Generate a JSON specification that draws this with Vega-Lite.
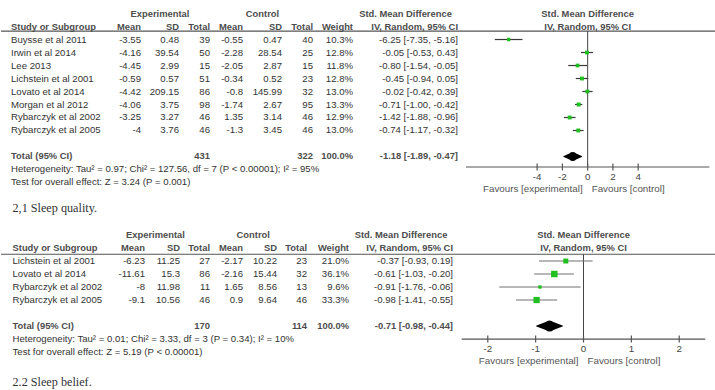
{
"$schema": "https://vega.github.io/schema/vega-lite/v6.json",
"padding": 0,
"spacing": 0,
"bounds": "flush",
"background": "white",
"config": {
  "view": {"stroke": null},
  "axis": {"disable": true},
  "legend": {"disable": true},
  "text": {"font": "Liberation Sans", "fontSize": 9.6, "baseline": "middle", "color": "#333333"}
},
"datasets": {
  "s1": [
    {"row":1,"study":"Buysse et al 2011","eMean":-3.55,"eSD":0.48,"eN":39,"cMean":-0.55,"cSD":0.47,"cN":40,"w":0.103,"est":-6.25,"lo":-7.35,"hi":-5.16,"ci":"-6.25 [-7.35, -5.16]"},
    {"row":2,"study":"Irwin et al 2014","eMean":-4.16,"eSD":39.54,"eN":50,"cMean":-2.28,"cSD":28.54,"cN":25,"w":0.128,"est":-0.05,"lo":-0.53,"hi":0.43,"ci":"-0.05 [-0.53, 0.43]"},
    {"row":3,"study":"Lee 2013","eMean":-4.45,"eSD":2.99,"eN":15,"cMean":-2.05,"cSD":2.87,"cN":15,"w":0.118,"est":-0.80,"lo":-1.54,"hi":-0.05,"ci":"-0.80 [-1.54, -0.05]"},
    {"row":4,"study":"Lichstein et al 2001","eMean":-0.59,"eSD":0.57,"eN":51,"cMean":-0.34,"cSD":0.52,"cN":23,"w":0.128,"est":-0.45,"lo":-0.94,"hi":0.05,"ci":"-0.45 [-0.94, 0.05]"},
    {"row":5,"study":"Lovato et al 2014","eMean":-4.42,"eSD":209.15,"eN":86,"cMean":-0.8,"cSD":145.99,"cN":32,"w":0.130,"est":-0.02,"lo":-0.42,"hi":0.39,"ci":"-0.02 [-0.42, 0.39]"},
    {"row":6,"study":"Morgan et al 2012","eMean":-4.06,"eSD":3.75,"eN":98,"cMean":-1.74,"cSD":2.67,"cN":95,"w":0.133,"est":-0.71,"lo":-1.00,"hi":-0.42,"ci":"-0.71 [-1.00, -0.42]"},
    {"row":7,"study":"Rybarczyk et al 2002","eMean":-3.25,"eSD":3.27,"eN":46,"cMean":1.35,"cSD":3.14,"cN":46,"w":0.129,"est":-1.42,"lo":-1.88,"hi":-0.96,"ci":"-1.42 [-1.88, -0.96]"},
    {"row":8,"study":"Rybarczyk et al 2005","eMean":-4,"eSD":3.76,"eN":46,"cMean":-1.3,"cSD":3.45,"cN":46,"w":0.130,"est":-0.74,"lo":-1.17,"hi":-0.32,"ci":"-0.74 [-1.17, -0.32]"}
  ],
  "b1": [
    {"row":0,"study":"Study or Subgroup","eMean":"Mean","eSD":"SD","eN":"Total","cMean":"Mean","cSD":"SD","cN":"Total","wt":"Weight","ci":"IV, Random, 95% CI"},
    {"row":10,"study":"Total (95% CI)","eMean":"","eSD":"","eN":"431","cMean":"","cSD":"","cN":"322","wt":"100.0%","ci":"-1.18 [-1.89, -0.47]"}
  ],
  "n1": [
    {"row":11,"text":"Heterogeneity: Tau² = 0.97; Chi² = 127.56, df = 7 (P < 0.00001); I² = 95%"},
    {"row":12,"text":"Test for overall effect: Z = 3.24 (P = 0.001)"}
  ],
  "t1": [{"row":10,"lo":-1.89,"est":-1.18,"hi":-0.47}],
  "k1": [{"v":-4},{"v":-2},{"v":0},{"v":2},{"v":4}],
  "cap1": [{"text":"2,1 Sleep quality."}],
  "s2": [
    {"row":1,"study":"Lichstein et al 2001","eMean":-6.23,"eSD":11.25,"eN":27,"cMean":-2.17,"cSD":10.22,"cN":23,"w":0.210,"est":-0.37,"lo":-0.93,"hi":0.19,"ci":"-0.37 [-0.93, 0.19]"},
    {"row":2,"study":"Lovato et al 2014","eMean":-11.61,"eSD":15.3,"eN":86,"cMean":-2.16,"cSD":15.44,"cN":32,"w":0.361,"est":-0.61,"lo":-1.03,"hi":-0.20,"ci":"-0.61 [-1.03, -0.20]"},
    {"row":3,"study":"Rybarczyk et al 2002","eMean":-8,"eSD":11.98,"eN":11,"cMean":1.65,"cSD":8.56,"cN":13,"w":0.096,"est":-0.91,"lo":-1.76,"hi":-0.06,"ci":"-0.91 [-1.76, -0.06]"},
    {"row":4,"study":"Rybarczyk et al 2005","eMean":-9.1,"eSD":10.56,"eN":46,"cMean":0.9,"cSD":9.64,"cN":46,"w":0.333,"est":-0.98,"lo":-1.41,"hi":-0.55,"ci":"-0.98 [-1.41, -0.55]"}
  ],
  "b2": [
    {"row":0,"study":"Study or Subgroup","eMean":"Mean","eSD":"SD","eN":"Total","cMean":"Mean","cSD":"SD","cN":"Total","wt":"Weight","ci":"IV, Random, 95% CI"},
    {"row":6,"study":"Total (95% CI)","eMean":"","eSD":"","eN":"170","cMean":"","cSD":"","cN":"114","wt":"100.0%","ci":"-0.71 [-0.98, -0.44]"}
  ],
  "n2": [
    {"row":7,"text":"Heterogeneity: Tau² = 0.01; Chi² = 3.33, df = 3 (P = 0.34); I² = 10%"},
    {"row":8,"text":"Test for overall effect: Z = 5.19 (P < 0.00001)"}
  ],
  "t2": [{"row":6,"lo":-0.98,"est":-0.71,"hi":-0.44}],
  "k2": [{"v":-2},{"v":-1},{"v":0},{"v":1},{"v":2}],
  "cap2": [{"text":"2.2 Sleep belief."}],
  "h": [{"exp":"Experimental","ctl":"Control","smd":"Std. Mean Difference","sub":"IV, Random, 95% CI"}],
  "fav": [{"l":"Favours [experimental]","r":"Favours [control]"}],
  "one": [{}]
},
"vconcat": [
{
  "width": 715, "height": 222,
  "resolve": {"scale": {"x": "independent"}},
  "layer": [
    {"layer": [
      {"data":{"name":"one"},"mark":{"type":"rule","color":"#555555","strokeWidth":1.2},"encoding":{"y":{"datum":0.35,"type":"quantitative","scale":{"domain":[-2.04,15.04],"reverse":true,"nice":false,"zero":false}}}},
      {"data":{"name":"h"},"mark":{"type":"text","align":"center","fontWeight":"bold","color":"#4d4d4d","fontSize":9.4},"encoding":{"x":{"datum":1.5,"type":"quantitative","scale":{"domain":[0,1,2,3,4,5,6,7,8],"range":[10,140,178,209,242,281,312,352,457],"nice":false,"zero":false}},"y":{"datum":-1,"type":"quantitative","scale":{"domain":[-2.04,15.04],"reverse":true,"nice":false,"zero":false}},"text":{"field":"exp","type":"nominal"}}},
      {"data":{"name":"h"},"mark":{"type":"text","align":"center","fontWeight":"bold","color":"#4d4d4d","fontSize":9.4},"encoding":{"x":{"datum":4.5,"type":"quantitative"},"y":{"datum":-1,"type":"quantitative"},"text":{"field":"ctl","type":"nominal"}}},
      {"data":{"name":"h"},"mark":{"type":"text","align":"center","fontWeight":"bold","color":"#4d4d4d","fontSize":9.4},"encoding":{"x":{"datum":7.5,"type":"quantitative"},"y":{"datum":-1,"type":"quantitative"},"text":{"field":"smd","type":"nominal"}}},
      {"data":{"name":"b1"},"mark":{"type":"text","align":"left","fontWeight":"bold","color":"#4d4d4d","fontSize":9.4},"encoding":{"x":{"datum":0,"type":"quantitative"},"y":{"field":"row","type":"quantitative"},"text":{"field":"study","type":"nominal"}}},
      {"data":{"name":"b1"},"mark":{"type":"text","align":"right","fontWeight":"bold","color":"#4d4d4d","fontSize":9.4},"encoding":{"x":{"datum":1,"type":"quantitative"},"y":{"field":"row","type":"quantitative"},"text":{"field":"eMean","type":"nominal"}}},
      {"data":{"name":"b1"},"mark":{"type":"text","align":"right","fontWeight":"bold","color":"#4d4d4d","fontSize":9.4},"encoding":{"x":{"datum":2,"type":"quantitative"},"y":{"field":"row","type":"quantitative"},"text":{"field":"eSD","type":"nominal"}}},
      {"data":{"name":"b1"},"mark":{"type":"text","align":"right","fontWeight":"bold","color":"#4d4d4d","fontSize":9.4},"encoding":{"x":{"datum":3,"type":"quantitative"},"y":{"field":"row","type":"quantitative"},"text":{"field":"eN","type":"nominal"}}},
      {"data":{"name":"b1"},"mark":{"type":"text","align":"right","fontWeight":"bold","color":"#4d4d4d","fontSize":9.4},"encoding":{"x":{"datum":4,"type":"quantitative"},"y":{"field":"row","type":"quantitative"},"text":{"field":"cMean","type":"nominal"}}},
      {"data":{"name":"b1"},"mark":{"type":"text","align":"right","fontWeight":"bold","color":"#4d4d4d","fontSize":9.4},"encoding":{"x":{"datum":5,"type":"quantitative"},"y":{"field":"row","type":"quantitative"},"text":{"field":"cSD","type":"nominal"}}},
      {"data":{"name":"b1"},"mark":{"type":"text","align":"right","fontWeight":"bold","color":"#4d4d4d","fontSize":9.4},"encoding":{"x":{"datum":6,"type":"quantitative"},"y":{"field":"row","type":"quantitative"},"text":{"field":"cN","type":"nominal"}}},
      {"data":{"name":"b1"},"mark":{"type":"text","align":"right","fontWeight":"bold","color":"#4d4d4d","fontSize":9.4},"encoding":{"x":{"datum":7,"type":"quantitative"},"y":{"field":"row","type":"quantitative"},"text":{"field":"wt","type":"nominal"}}},
      {"data":{"name":"b1"},"mark":{"type":"text","align":"right","fontWeight":"bold","color":"#4d4d4d","fontSize":9.4},"encoding":{"x":{"datum":8,"type":"quantitative"},"y":{"field":"row","type":"quantitative"},"text":{"field":"ci","type":"nominal"}}},
      {"data":{"name":"s1"},"mark":{"type":"text","align":"left"},"encoding":{"x":{"datum":0,"type":"quantitative"},"y":{"field":"row","type":"quantitative"},"text":{"field":"study","type":"nominal"}}},
      {"data":{"name":"s1"},"mark":{"type":"text","align":"right"},"encoding":{"x":{"datum":1,"type":"quantitative"},"y":{"field":"row","type":"quantitative"},"text":{"field":"eMean","type":"nominal"}}},
      {"data":{"name":"s1"},"mark":{"type":"text","align":"right"},"encoding":{"x":{"datum":2,"type":"quantitative"},"y":{"field":"row","type":"quantitative"},"text":{"field":"eSD","type":"nominal"}}},
      {"data":{"name":"s1"},"mark":{"type":"text","align":"right"},"encoding":{"x":{"datum":3,"type":"quantitative"},"y":{"field":"row","type":"quantitative"},"text":{"field":"eN","type":"nominal"}}},
      {"data":{"name":"s1"},"mark":{"type":"text","align":"right"},"encoding":{"x":{"datum":4,"type":"quantitative"},"y":{"field":"row","type":"quantitative"},"text":{"field":"cMean","type":"nominal"}}},
      {"data":{"name":"s1"},"mark":{"type":"text","align":"right"},"encoding":{"x":{"datum":5,"type":"quantitative"},"y":{"field":"row","type":"quantitative"},"text":{"field":"cSD","type":"nominal"}}},
      {"data":{"name":"s1"},"mark":{"type":"text","align":"right"},"encoding":{"x":{"datum":6,"type":"quantitative"},"y":{"field":"row","type":"quantitative"},"text":{"field":"cN","type":"nominal"}}},
      {"data":{"name":"s1"},"mark":{"type":"text","align":"right"},"encoding":{"x":{"datum":7,"type":"quantitative"},"y":{"field":"row","type":"quantitative"},"text":{"field":"w","type":"quantitative","format":".1%"}}},
      {"data":{"name":"s1"},"mark":{"type":"text","align":"right"},"encoding":{"x":{"datum":8,"type":"quantitative"},"y":{"field":"row","type":"quantitative"},"text":{"field":"ci","type":"nominal"}}},
      {"data":{"name":"n1"},"mark":{"type":"text","align":"left"},"encoding":{"x":{"datum":0,"type":"quantitative"},"y":{"field":"row","type":"quantitative"},"text":{"field":"text","type":"nominal"}}},
      {"data":{"name":"cap1"},"mark":{"type":"text","align":"left","font":"Liberation Serif","fontSize":12.2,"dx":1.5},"encoding":{"x":{"datum":0,"type":"quantitative"},"y":{"datum":14,"type":"quantitative"},"text":{"field":"text","type":"nominal"}}}
    ]},
    {"layer": [
      {"data":{"name":"one"},"mark":{"type":"rule","color":"#444444","strokeWidth":1},"encoding":{"x":{"datum":0,"type":"quantitative","scale":{"domain":[-9.63,9.63],"range":[465,708.3],"nice":false,"zero":false}},"y":{"datum":0.35,"type":"quantitative"},"y2":{"datum":10.81}}},
      {"data":{"name":"one"},"mark":{"type":"rule","color":"#555555","strokeWidth":1.2},"encoding":{"x":{"datum":-9.63,"type":"quantitative"},"x2":{"datum":9.63},"y":{"datum":10.81,"type":"quantitative"}}},
      {"data":{"name":"k1"},"mark":{"type":"rule","color":"#555555","strokeWidth":1.2},"encoding":{"x":{"field":"v","type":"quantitative"},"y":{"datum":10.54,"type":"quantitative"},"y2":{"datum":11.08}}},
      {"data":{"name":"k1"},"mark":{"type":"text","align":"center","fontSize":9.8,"color":"#444444"},"encoding":{"x":{"field":"v","type":"quantitative"},"y":{"datum":11.55,"type":"quantitative"},"text":{"field":"v","type":"nominal"}}},
      {"data":{"name":"h"},"mark":{"type":"text","align":"center","fontWeight":"bold","color":"#4d4d4d","fontSize":9.4},"encoding":{"x":{"datum":0,"type":"quantitative"},"y":{"datum":-1,"type":"quantitative"},"text":{"field":"smd","type":"nominal"}}},
      {"data":{"name":"h"},"mark":{"type":"text","align":"center","fontWeight":"bold","color":"#4d4d4d","fontSize":9.4},"encoding":{"x":{"datum":0,"type":"quantitative"},"y":{"datum":0,"type":"quantitative"},"text":{"field":"sub","type":"nominal"}}},
      {"data":{"name":"s1"},"mark":{"type":"rule","color":"#3a3a3a","strokeWidth":1.2},"encoding":{"x":{"field":"lo","type":"quantitative"},"x2":{"field":"hi"},"y":{"field":"row","type":"quantitative"}}},
      {"data":{"name":"s1"},"mark":{"type":"square","filled":true,"color":"#1fbf1f","opacity":1},"encoding":{"x":{"field":"est","type":"quantitative"},"y":{"field":"row","type":"quantitative"},"size":{"field":"w","type":"quantitative","scale":{"domain":[0,0.361],"range":[0,42]}}}},
      {"data":{"name":"t1"},"transform":[{"fold":["lo","est","hi"],"as":["k","v"]}],"mark":{"type":"trail","color":"black"},"encoding":{"x":{"field":"v","type":"quantitative"},"y":{"field":"row","type":"quantitative"},"size":{"condition":{"test":"datum.k === 'est'","value":9},"value":0}}},
      {"data":{"name":"fav"},"mark":{"type":"text","align":"right","dx":-5,"fontSize":9.8,"color":"#555555"},"encoding":{"x":{"datum":0,"type":"quantitative"},"y":{"datum":12.5,"type":"quantitative"},"text":{"field":"l","type":"nominal"}}},
      {"data":{"name":"fav"},"mark":{"type":"text","align":"left","dx":4,"fontSize":9.8,"color":"#555555"},"encoding":{"x":{"datum":0,"type":"quantitative"},"y":{"datum":12.5,"type":"quantitative"},"text":{"field":"r","type":"nominal"}}}
    ]}
  ]
},
{
  "width": 715, "height": 168,
  "resolve": {"scale": {"x": "independent"}},
  "layer": [
    {"layer": [
      {"data":{"name":"one"},"mark":{"type":"rule","color":"#555555","strokeWidth":1.2},"encoding":{"y":{"datum":0.48,"type":"quantitative","scale":{"domain":[-2,10.92],"reverse":true,"nice":false,"zero":false}}}},
      {"data":{"name":"h"},"mark":{"type":"text","align":"center","fontWeight":"bold","color":"#4d4d4d","fontSize":9.4},"encoding":{"x":{"datum":1.3,"type":"quantitative","scale":{"domain":[0,1,2,3,4,5,6,7,8],"range":[11.5,144,179,209,242,276,306,348,452],"nice":false,"zero":false}},"y":{"datum":-1,"type":"quantitative"},"text":{"field":"exp","type":"nominal"}}},
      {"data":{"name":"h"},"mark":{"type":"text","align":"center","fontWeight":"bold","color":"#4d4d4d","fontSize":9.4},"encoding":{"x":{"datum":4.3,"type":"quantitative"},"y":{"datum":-1,"type":"quantitative"},"text":{"field":"ctl","type":"nominal"}}},
      {"data":{"name":"h"},"mark":{"type":"text","align":"center","fontWeight":"bold","color":"#4d4d4d","fontSize":9.4},"encoding":{"x":{"datum":7.5,"type":"quantitative"},"y":{"datum":-1,"type":"quantitative"},"text":{"field":"smd","type":"nominal"}}},
      {"data":{"name":"b2"},"mark":{"type":"text","align":"left","fontWeight":"bold","color":"#4d4d4d","fontSize":9.4},"encoding":{"x":{"datum":0,"type":"quantitative"},"y":{"field":"row","type":"quantitative"},"text":{"field":"study","type":"nominal"}}},
      {"data":{"name":"b2"},"mark":{"type":"text","align":"right","fontWeight":"bold","color":"#4d4d4d","fontSize":9.4},"encoding":{"x":{"datum":1,"type":"quantitative"},"y":{"field":"row","type":"quantitative"},"text":{"field":"eMean","type":"nominal"}}},
      {"data":{"name":"b2"},"mark":{"type":"text","align":"right","fontWeight":"bold","color":"#4d4d4d","fontSize":9.4},"encoding":{"x":{"datum":2,"type":"quantitative"},"y":{"field":"row","type":"quantitative"},"text":{"field":"eSD","type":"nominal"}}},
      {"data":{"name":"b2"},"mark":{"type":"text","align":"right","fontWeight":"bold","color":"#4d4d4d","fontSize":9.4},"encoding":{"x":{"datum":3,"type":"quantitative"},"y":{"field":"row","type":"quantitative"},"text":{"field":"eN","type":"nominal"}}},
      {"data":{"name":"b2"},"mark":{"type":"text","align":"right","fontWeight":"bold","color":"#4d4d4d","fontSize":9.4},"encoding":{"x":{"datum":4,"type":"quantitative"},"y":{"field":"row","type":"quantitative"},"text":{"field":"cMean","type":"nominal"}}},
      {"data":{"name":"b2"},"mark":{"type":"text","align":"right","fontWeight":"bold","color":"#4d4d4d","fontSize":9.4},"encoding":{"x":{"datum":5,"type":"quantitative"},"y":{"field":"row","type":"quantitative"},"text":{"field":"cSD","type":"nominal"}}},
      {"data":{"name":"b2"},"mark":{"type":"text","align":"right","fontWeight":"bold","color":"#4d4d4d","fontSize":9.4},"encoding":{"x":{"datum":6,"type":"quantitative"},"y":{"field":"row","type":"quantitative"},"text":{"field":"cN","type":"nominal"}}},
      {"data":{"name":"b2"},"mark":{"type":"text","align":"right","fontWeight":"bold","color":"#4d4d4d","fontSize":9.4},"encoding":{"x":{"datum":7,"type":"quantitative"},"y":{"field":"row","type":"quantitative"},"text":{"field":"wt","type":"nominal"}}},
      {"data":{"name":"b2"},"mark":{"type":"text","align":"right","fontWeight":"bold","color":"#4d4d4d","fontSize":9.4},"encoding":{"x":{"datum":8,"type":"quantitative"},"y":{"field":"row","type":"quantitative"},"text":{"field":"ci","type":"nominal"}}},
      {"data":{"name":"s2"},"mark":{"type":"text","align":"left"},"encoding":{"x":{"datum":0,"type":"quantitative"},"y":{"field":"row","type":"quantitative"},"text":{"field":"study","type":"nominal"}}},
      {"data":{"name":"s2"},"mark":{"type":"text","align":"right"},"encoding":{"x":{"datum":1,"type":"quantitative"},"y":{"field":"row","type":"quantitative"},"text":{"field":"eMean","type":"nominal"}}},
      {"data":{"name":"s2"},"mark":{"type":"text","align":"right"},"encoding":{"x":{"datum":2,"type":"quantitative"},"y":{"field":"row","type":"quantitative"},"text":{"field":"eSD","type":"nominal"}}},
      {"data":{"name":"s2"},"mark":{"type":"text","align":"right"},"encoding":{"x":{"datum":3,"type":"quantitative"},"y":{"field":"row","type":"quantitative"},"text":{"field":"eN","type":"nominal"}}},
      {"data":{"name":"s2"},"mark":{"type":"text","align":"right"},"encoding":{"x":{"datum":4,"type":"quantitative"},"y":{"field":"row","type":"quantitative"},"text":{"field":"cMean","type":"nominal"}}},
      {"data":{"name":"s2"},"mark":{"type":"text","align":"right"},"encoding":{"x":{"datum":5,"type":"quantitative"},"y":{"field":"row","type":"quantitative"},"text":{"field":"cSD","type":"nominal"}}},
      {"data":{"name":"s2"},"mark":{"type":"text","align":"right"},"encoding":{"x":{"datum":6,"type":"quantitative"},"y":{"field":"row","type":"quantitative"},"text":{"field":"cN","type":"nominal"}}},
      {"data":{"name":"s2"},"mark":{"type":"text","align":"right"},"encoding":{"x":{"datum":7,"type":"quantitative"},"y":{"field":"row","type":"quantitative"},"text":{"field":"w","type":"quantitative","format":".1%"}}},
      {"data":{"name":"s2"},"mark":{"type":"text","align":"right"},"encoding":{"x":{"datum":8,"type":"quantitative"},"y":{"field":"row","type":"quantitative"},"text":{"field":"ci","type":"nominal"}}},
      {"data":{"name":"n2"},"mark":{"type":"text","align":"left"},"encoding":{"x":{"datum":0,"type":"quantitative"},"y":{"field":"row","type":"quantitative"},"text":{"field":"text","type":"nominal"}}},
      {"data":{"name":"cap2"},"mark":{"type":"text","align":"left","font":"Liberation Serif","fontSize":12.2},"encoding":{"x":{"datum":0,"type":"quantitative"},"y":{"datum":10.3,"type":"quantitative"},"text":{"field":"text","type":"nominal"}}}
    ]},
    {"layer": [
      {"data":{"name":"one"},"mark":{"type":"rule","color":"#444444","strokeWidth":1},"encoding":{"x":{"datum":0,"type":"quantitative","scale":{"domain":[-2.545,2.545],"range":[460.7,704.3],"nice":false,"zero":false}},"y":{"datum":0.48,"type":"quantitative"},"y2":{"datum":7.0}}},
      {"data":{"name":"one"},"mark":{"type":"rule","color":"#555555","strokeWidth":1.2},"encoding":{"x":{"datum":-2.545,"type":"quantitative"},"x2":{"datum":2.545},"y":{"datum":7.0,"type":"quantitative"}}},
      {"data":{"name":"k2"},"mark":{"type":"rule","color":"#555555","strokeWidth":1.2},"encoding":{"x":{"field":"v","type":"quantitative"},"y":{"datum":6.73,"type":"quantitative"},"y2":{"datum":7.27}}},
      {"data":{"name":"k2"},"mark":{"type":"text","align":"center","fontSize":9.8,"color":"#444444"},"encoding":{"x":{"field":"v","type":"quantitative"},"y":{"datum":7.77,"type":"quantitative"},"text":{"field":"v","type":"nominal"}}},
      {"data":{"name":"h"},"mark":{"type":"text","align":"center","fontWeight":"bold","color":"#4d4d4d","fontSize":9.4},"encoding":{"x":{"datum":0,"type":"quantitative"},"y":{"datum":-1,"type":"quantitative"},"text":{"field":"smd","type":"nominal"}}},
      {"data":{"name":"h"},"mark":{"type":"text","align":"center","fontWeight":"bold","color":"#4d4d4d","fontSize":9.4},"encoding":{"x":{"datum":0,"type":"quantitative"},"y":{"datum":0,"type":"quantitative"},"text":{"field":"sub","type":"nominal"}}},
      {"data":{"name":"s2"},"mark":{"type":"rule","color":"#707070","strokeWidth":1.2},"encoding":{"x":{"field":"lo","type":"quantitative"},"x2":{"field":"hi"},"y":{"field":"row","type":"quantitative"}}},
      {"data":{"name":"s2"},"mark":{"type":"square","filled":true,"color":"#1fbf1f","opacity":1},"encoding":{"x":{"field":"est","type":"quantitative"},"y":{"field":"row","type":"quantitative"},"size":{"field":"w","type":"quantitative","scale":{"domain":[0,0.361],"range":[0,42]}}}},
      {"data":{"name":"t2"},"transform":[{"fold":["lo","est","hi"],"as":["k","v"]}],"mark":{"type":"trail","color":"black"},"encoding":{"x":{"field":"v","type":"quantitative"},"y":{"field":"row","type":"quantitative"},"size":{"condition":{"test":"datum.k === 'est'","value":11},"value":0}}},
      {"data":{"name":"fav"},"mark":{"type":"text","align":"right","dx":-5,"fontSize":9.8,"color":"#555555"},"encoding":{"x":{"datum":0,"type":"quantitative"},"y":{"datum":8.69,"type":"quantitative"},"text":{"field":"l","type":"nominal"}}},
      {"data":{"name":"fav"},"mark":{"type":"text","align":"left","dx":4,"fontSize":9.8,"color":"#555555"},"encoding":{"x":{"datum":0,"type":"quantitative"},"y":{"datum":8.69,"type":"quantitative"},"text":{"field":"r","type":"nominal"}}}
    ]}
  ]
}
]
}
